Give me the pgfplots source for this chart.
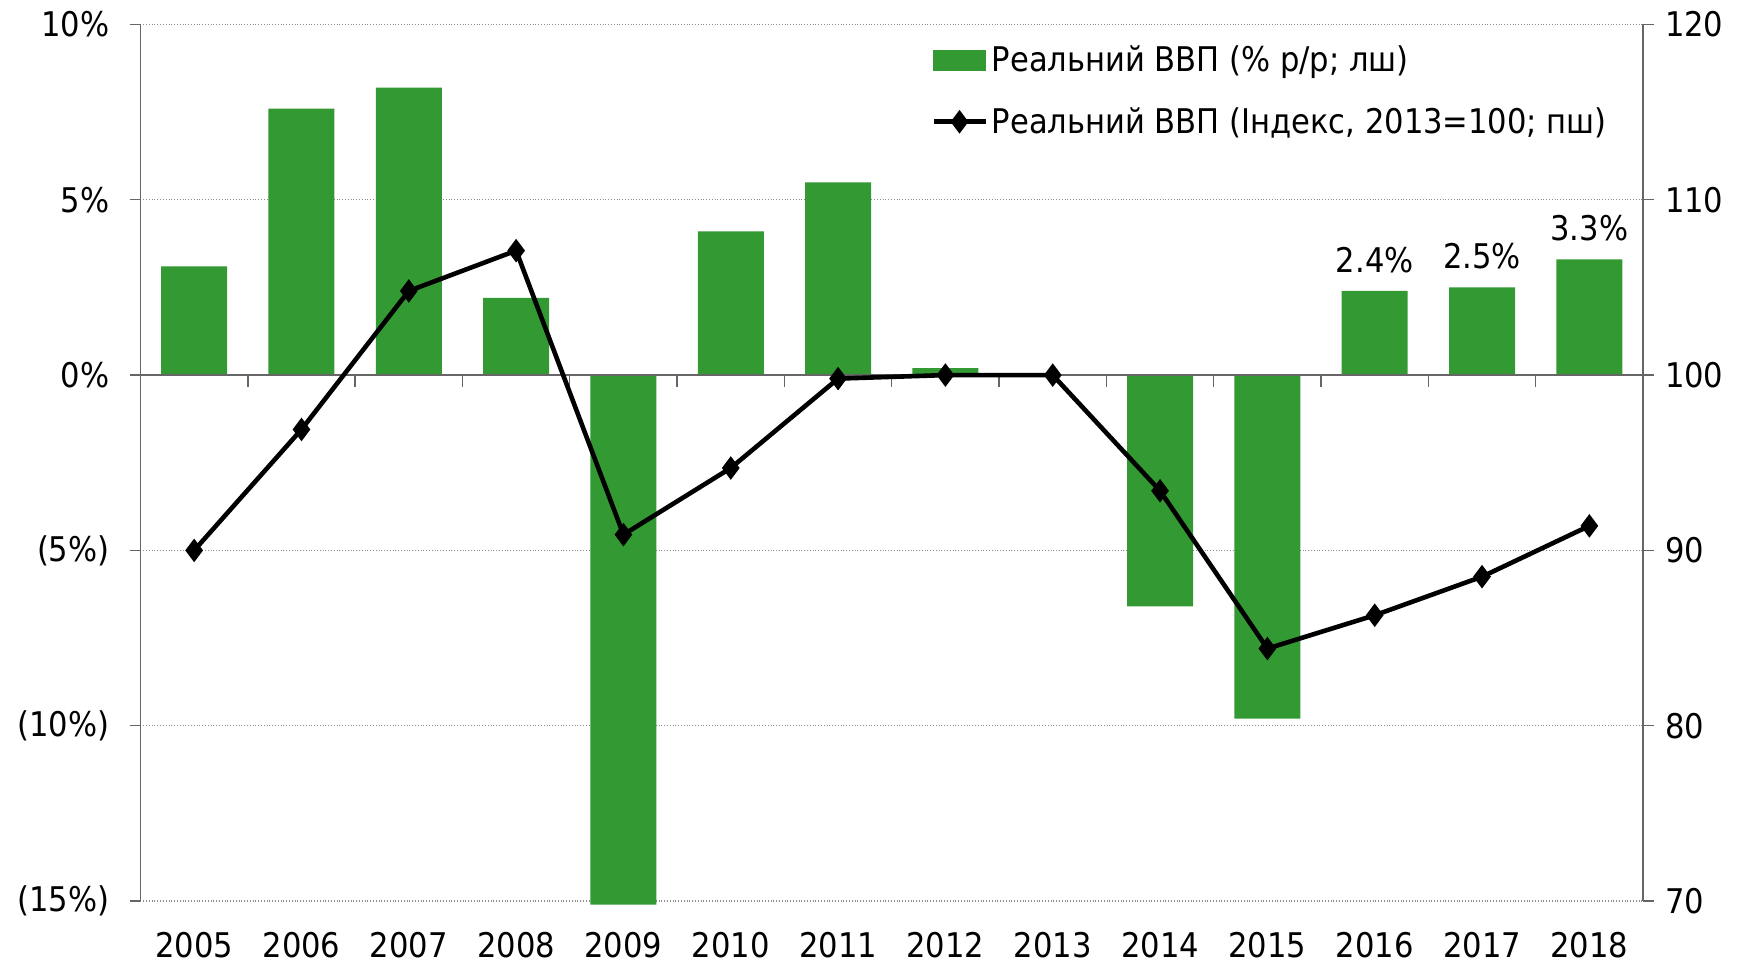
\documentclass[border=0pt]{standalone}
\usepackage{fontspec}
\setmainfont{DejaVu Sans Condensed}
\usepackage{pgfplots}
\usepackage{pgfplotstable}
\pgfplotsset{compat=1.18}
\definecolor{gbar}{RGB}{51,153,51}
\pgfplotsset{
  mylineleg/.style={legend image code/.code={\draw[mark repeat=2,mark phase=2,##1] plot coordinates {(0pt,0pt) (13pt,0pt) (26pt,0pt)};}},
  myboxleg/.style={legend image code/.code={\fill[gbar] (0pt,-5pt) rectangle (26pt,5pt);}},
}
\pgfplotstableread{
x val idx
0 3.1 90.0
1 7.6 96.9
2 8.2 104.8
3 2.2 107.1
4 -15.1 90.9
5 4.1 94.7
6 5.5 99.8
7 0.2 100.0
8 0.0 100.0
9 -6.6 93.4
10 -9.8 84.4
11 2.4 86.3
12 2.5 88.5
13 3.3 91.4
}\gdp
\begin{document}
\begin{tikzpicture}[font=\fontsize{17}{20}\selectfont]
\begin{axis}[
  name=ax1,
  scale only axis, width=751.25pt, height=438.25pt,
  xmin=-0.5, xmax=13.5, ymin=-15, ymax=10,
  axis y line*=left, axis x line*=bottom,
  x axis line style={draw=none},
  xtick={0,...,13},
  xticklabels={2005,2006,2007,2008,2009,2010,2011,2012,2013,2014,2015,2016,2017,2018},
  xtick style={draw=none},
  xticklabel style={yshift=-6.5pt},
  ytick={-15,-10,-5,0,5,10},
  yticklabels={(15\%),(10\%),(5\%),0\%,5\%,10\%},
  yticklabel style={xshift=-6.5pt},
  tick align=outside, major tick length=5.5pt,
  y axis line style={black!60, line width=0.7pt},
  ytick style={black!60, line width=0.7pt},
  ymajorgrids, grid style={densely dotted, black!45, line width=0.7pt},
  /pgf/number format/assume math mode=true,
  clip=false,
]
\addplot[ybar, bar width=33pt, fill=gbar, draw=none] table[x=x,y=val]{\gdp};
\addplot[ybar, bar width=33pt, draw=none, fill=none,
  nodes near coords={\pgfmathprintnumber[fixed,precision=1,fixed zerofill]{\pgfplotspointmeta}\%},
  nodes near coords style={anchor=south, inner sep=5pt, yshift=4pt}]
  coordinates {(11,2.4) (12,2.5) (13,3.3)};
\draw[black!60, line width=0.8pt] (axis cs:-0.5,0) -- (axis cs:13.5,0);
\pgfplotsinvokeforeach{0.5,1.5,2.5,3.5,4.5,5.5,6.5,7.5,8.5,9.5,10.5,11.5,12.5}{
  \draw[black!60, line width=0.7pt] (axis cs:#1,0) -- ++(0pt,-6pt);
}
\end{axis}
\begin{axis}[
  scale only axis, width=751.25pt, height=438.25pt,
  xmin=-0.5, xmax=13.5, ymin=70, ymax=120,
  axis y line*=right, axis x line=none,
  ytick={70,80,90,100,110,120},
  yticklabels={70,80,90,100,110,120},
  yticklabel style={xshift=2pt},
  tick align=outside, major tick length=5.5pt,
  y axis line style={black!60, line width=0.7pt},
  ytick style={black!60, line width=0.7pt},
  legend style={at={(0.526,0.981)}, anchor=north west, draw=none, fill=none,
    row sep=12.5pt, inner sep=0pt, nodes={inner xsep=2pt}},
  legend cell align=left,
  clip=false,
]
\addlegendimage{myboxleg}
\addlegendentry{Реальний ВВП (\% р/р; лш)}
\addplot[black, line width=2.3pt, mark=diamond*, mark size=4pt, mylineleg]
  table[x=x,y=idx]{\gdp};
\addlegendentry{Реальний ВВП (Індекс, 2013=100; пш)}
\end{axis}
\pgfresetboundingbox
\path ([shift={(-70.25pt,-31pt)}]ax1.south west) rectangle ([shift={(52.5pt,12.25pt)}]ax1.north east);
\end{tikzpicture}
\end{document}
